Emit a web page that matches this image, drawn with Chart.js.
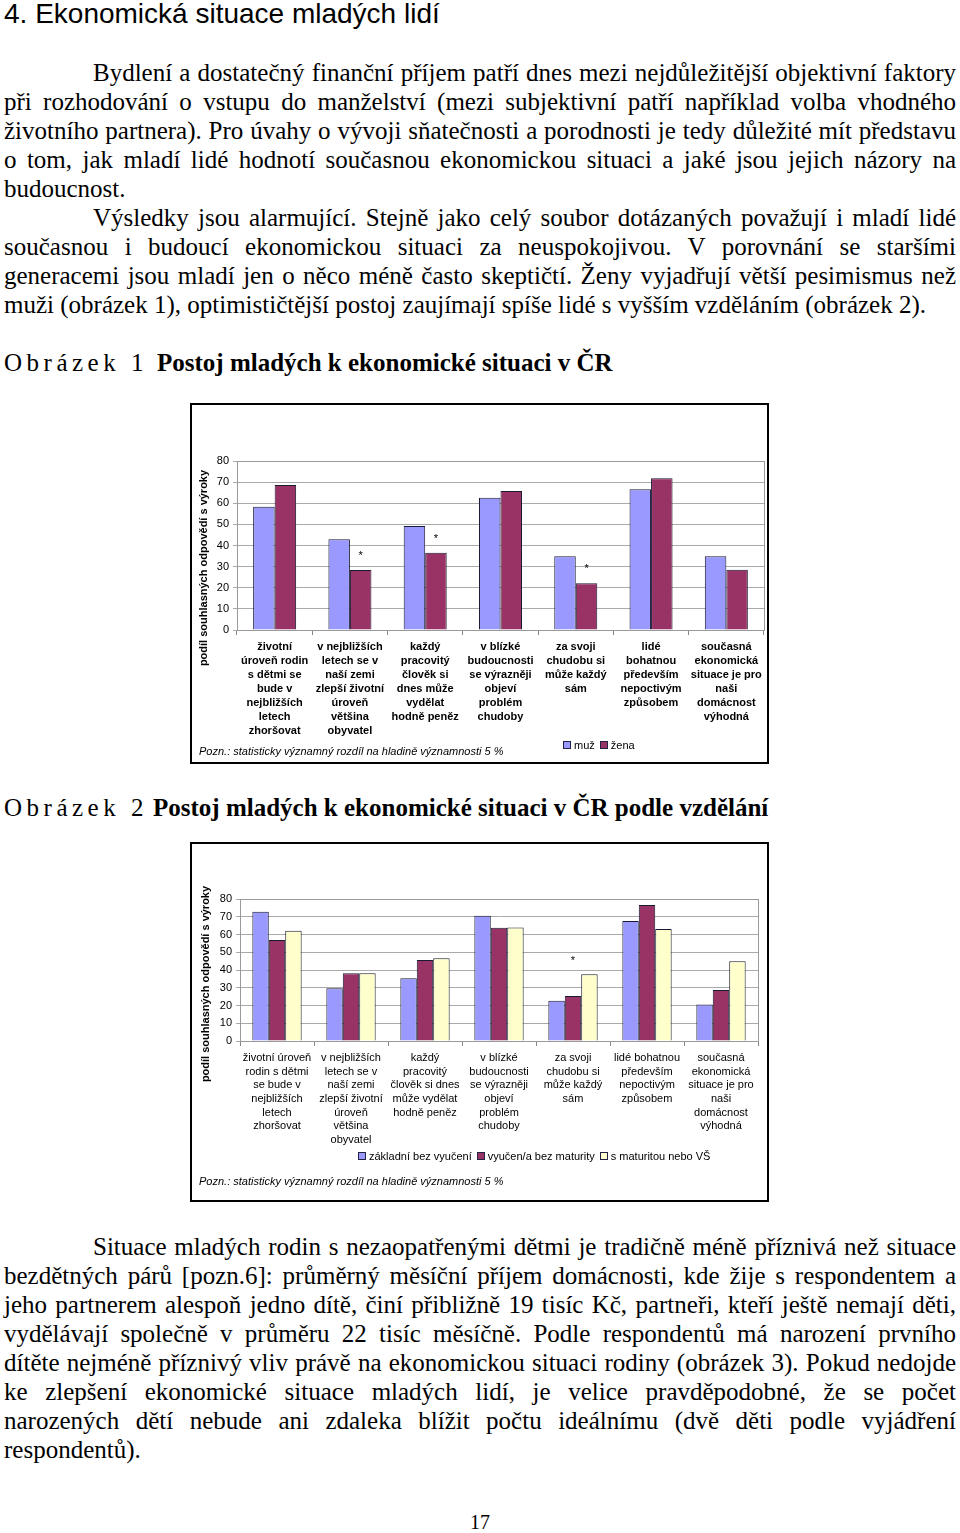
<!DOCTYPE html>
<html><head><meta charset="utf-8">
<script src="https://cdn.jsdelivr.net/npm/chart.js@4.4.1/dist/chart.umd.min.js"></script>
<style>
html,body{margin:0;padding:0;background:#fff;}
body{width:960px;height:1533px;position:relative;overflow:hidden;}
.t{position:absolute;font-family:'Liberation Serif','Times New Roman',serif;font-size:25px;line-height:29px;color:#000;white-space:nowrap;}
.j{left:4px;width:952px;text-align:justify;text-align-last:justify;white-space:normal;}
.ji{left:93px;width:863px;text-align:justify;text-align-last:justify;white-space:normal;}
.l{left:4px;}
.h1{position:absolute;left:4px;top:-2px;font-family:'Liberation Sans',Arial,sans-serif;font-size:28px;line-height:32px;white-space:nowrap;}
.sp{letter-spacing:4.5px;}
.b{font-weight:bold;}
.box{position:absolute;left:190px;width:579px;border:2px solid #000;box-sizing:border-box;background:#fff;}
.box canvas{position:absolute;left:0;top:0;}
.ytitle{position:absolute;width:240px;height:14px;line-height:14px;text-align:center;font:bold 11px 'Liberation Sans',Arial,sans-serif;transform:rotate(-90deg);white-space:nowrap;}
.note{position:absolute;left:199px;font:italic 11px 'Liberation Sans',Arial,sans-serif;line-height:14px;white-space:nowrap;}
.legend{position:absolute;font:11px 'Liberation Sans',Arial,sans-serif;line-height:14px;white-space:nowrap;display:flex;align-items:center;}
.legend .sw{display:inline-block;width:6px;height:6px;border:1px solid #222244;margin-right:3px;}
.legend .it{margin-right:5px;}
</style>
</head><body>

<div class="h1">4. Ekonomická situace mladých lidí</div>

<div class="t ji" style="top:58px">Bydlení a dostatečný finanční příjem patří dnes mezi nejdůležitější objektivní faktory</div>
<div class="t j" style="top:87px">při rozhodování o vstupu do manželství (mezi subjektivní patří například volba vhodného</div>
<div class="t j" style="top:116px">životního partnera). Pro úvahy o vývoji sňatečnosti a porodnosti je tedy důležité mít představu</div>
<div class="t j" style="top:145px">o tom, jak mladí lidé hodnotí současnou ekonomickou situaci a jaké jsou jejich názory na</div>
<div class="t l" style="top:174px">budoucnost.</div>
<div class="t ji" style="top:203px">Výsledky jsou alarmující. Stejně jako celý soubor dotázaných považují i mladí lidé</div>
<div class="t j" style="top:232px">současnou i budoucí ekonomickou situaci za neuspokojivou. V porovnání se staršími</div>
<div class="t j" style="top:261px">generacemi jsou mladí jen o něco méně často skeptičtí. Ženy vyjadřují větší pesimismus než</div>
<div class="t l" style="top:290px">muži (obrázek 1), optimističtější postoj zaujímají spíše lidé s vyšším vzděláním (obrázek 2).</div>

<div class="t l sp" style="top:348px">Obrázek 1</div>
<div class="t b" style="top:348px;left:157px">Postoj mladých k ekonomické situaci v ČR</div>

<div class="box" style="top:403px;height:361px"><canvas id="c1" width="575" height="357"></canvas></div>
<div class="ytitle" style="left:84px;top:561px">podíl souhlasných odpovědí s výroky</div>
<div class="note" style="top:744px">Pozn.: statisticky významný rozdíl na hladině významnosti 5 %</div>
<div class="legend" id="lg1" style="left:563px;top:738px"></div>

<div class="t l sp" style="top:793px">Obrázek 2</div>
<div class="t b" style="top:793px;left:153px">Postoj mladých k ekonomické situaci v ČR podle vzdělání</div>

<div class="box" style="top:842px;height:360px"><canvas id="c2" width="575" height="356"></canvas></div>
<div class="ytitle" style="left:86px;top:977px">podíl souhlasných odpovědí s výroky</div>
<div class="note" style="top:1174px">Pozn.: statisticky významný rozdíl na hladině významnosti 5 %</div>
<div class="legend" id="lg2" style="left:358px;top:1149px"></div>

<div class="t ji" style="top:1232px">Situace mladých rodin s nezaopatřenými dětmi je tradičně méně příznivá než situace</div>
<div class="t j" style="top:1261px">bezdětných párů [pozn.6]: průměrný měsíční příjem domácnosti, kde žije s respondentem a</div>
<div class="t j" style="top:1290px">jeho partnerem alespoň jedno dítě, činí přibližně 19 tisíc Kč, partneři, kteří ještě nemají děti,</div>
<div class="t j" style="top:1319px">vydělávají společně v průměru 22 tisíc měsíčně. Podle respondentů má narození prvního</div>
<div class="t j" style="top:1348px">dítěte nejméně příznivý vliv právě na ekonomickou situaci rodiny (obrázek 3). Pokud nedojde</div>
<div class="t j" style="top:1377px">ke zlepšení ekonomické situace mladých lidí, je velice pravděpodobné, že se počet</div>
<div class="t j" style="top:1406px">narozených dětí nebude ani zdaleka blížit počtu ideálnímu (dvě děti podle vyjádření</div>
<div class="t l" style="top:1435px">respondentů).</div>

<div class="t" style="top:1508px;left:0;width:960px;text-align:center;font-size:20px">17</div>

<script>
// ---------- data ----------
const yTicks = [0, 10, 20, 30, 40, 50, 60, 70, 80];

const categories1 = [
  ["životní","úroveň rodin","s dětmi se","bude v","nejbližších","letech","zhoršovat"],
  ["v nejbližších","letech se v","naší zemi","zlepší životní","úroveň","většina","obyvatel"],
  ["každý","pracovitý","člověk si","dnes může","vydělat","hodně peněz"],
  ["v blízké","budoucnosti","se výrazněji","objeví","problém","chudoby"],
  ["za svoji","chudobu si","může každý","sám"],
  ["lidé","bohatnou","především","nepoctivým","způsobem"],
  ["současná","ekonomická","situace je pro","naši","domácnost","výhodná"]
];
const seriesNames1 = ["muž", "žena"];
const muz  = [58.4, 42.9, 49.2, 62.6, 34.9, 66.6, 34.9];
const zena = [68.6, 28.4, 36.6, 65.8, 22.1, 71.8, 28.5];
const significant1 = [false, true, true, false, true, false, false];

const categories2 = [
  ["životní úroveň","rodin s dětmi","se bude v","nejbližších","letech","zhoršovat"],
  ["v nejbližších","letech se v","naší zemi","zlepší životní","úroveň","většina","obyvatel"],
  ["každý","pracovitý","člověk si dnes","může vydělat","hodně peněz"],
  ["v blízké","budoucnosti","se výrazněji","objeví","problém","chudoby"],
  ["za svoji","chudobu si","může každý","sám"],
  ["lidé bohatnou","především","nepoctivým","způsobem"],
  ["současná","ekonomická","situace je pro","naši","domácnost","výhodná"]
];
const seriesNames2 = ["základní bez vyučení", "vyučen/a bez maturity", "s maturitou nebo VŠ"];
const zakladni  = [72.8, 29.7, 35.3, 70.6, 22.7, 67.6, 20.5];
const vyucen    = [56.9, 38.1, 45.6, 63.8, 25.4, 76.6, 28.7];
const maturita  = [62.1, 38.1, 46.6, 64.0, 37.6, 63.1, 44.9];
const significant2 = [false, false, false, false, true, false, false];

// ---------- styles ----------
const COLORS = ['#9999FF', '#993366', '#FFFFCC'];
const BORDER = '#1a1a33';
const FONT = "'Liberation Sans', Arial, sans-serif";

const plotBorder = {
  id: 'plotBorder',
  beforeDatasetsDraw(chart) {
    const a = chart.chartArea, ctx = chart.ctx;
    ctx.save();
    ctx.strokeStyle = '#9a9a9a';
    ctx.lineWidth = 1;
    ctx.strokeRect(Math.round(a.left) + 0.5, Math.round(a.top) + 0.5, Math.round(a.right - a.left), Math.round(a.bottom - a.top));
    ctx.restore();
  }
};

const sigMarks = {
  id: 'sigMarks',
  afterDatasetsDraw(chart, args, opts) {
    if (!opts || !opts.flags) return;
    const ctx = chart.ctx;
    const xMeta = chart.getDatasetMeta(opts.xref);
    const yMeta = chart.getDatasetMeta(opts.yref);
    ctx.save();
    ctx.font = '11px ' + FONT;
    ctx.fillStyle = '#000';
    ctx.textAlign = 'center';
    ctx.textBaseline = 'alphabetic';
    opts.flags.forEach((f, i) => {
      if (!f) return;
      ctx.fillText('*', xMeta.data[i].x, yMeta.data[i].y - opts.offset);
    });
    ctx.restore();
  }
};

function makeChart(id, labels, names, series, catPct, yW, xH, padTop, padRight, boldLabels, lineH, sig) {
  const datasets = series.map((s, i) => ({
    label: names[i],
    data: s,
    backgroundColor: COLORS[i],
    borderColor: BORDER,
    borderWidth: 1,
    categoryPercentage: catPct,
    barPercentage: 1.0
  }));
  return new Chart(document.getElementById(id), {
    type: 'bar',
    data: { labels: labels, datasets: datasets },
    plugins: [plotBorder, sigMarks],
    options: {
      responsive: false,
      animation: false,
      layout: { padding: { top: padTop, right: padRight, left: 0, bottom: 0 } },
      plugins: {
        legend: { display: false },
        tooltip: { enabled: false },
        sigMarks: sig
      },
      scales: {
        x: {
          grid: { display: true, drawOnChartArea: false, drawTicks: true, tickLength: 5, color: '#888', offset: true },
          border: { color: '#888' },
          ticks: {
            autoSkip: false, maxRotation: 0, minRotation: 0, padding: 5, color: '#000',
            font: { family: FONT, size: 11, weight: boldLabels ? 'bold' : 'normal', lineHeight: lineH }
          },
          afterFit: s => { s.height = xH; }
        },
        y: {
          min: 0, max: 80,
          afterBuildTicks: s => { s.ticks = yTicks.map(v => ({ value: v })); },
          grid: { color: '#aaaaaa', tickLength: 4, drawTicks: true },
          border: { color: '#888' },
          ticks: { padding: 4, color: '#000', font: { family: FONT, size: 11 } },
          afterFit: s => { s.width = yW; }
        }
      }
    }
  });
}

makeChart('c1', categories1, seriesNames1, [muz, zena], 2 / 3.5, 45, 132, 56, 3, true, 14 / 11,
  { flags: significant1, xref: 1, yref: 1, offset: 11 });
makeChart('c2', categories2, seriesNames2, [zakladni, vyucen, maturita], 3 / 4.5, 48, 159, 55, 9, false, 13.7 / 11,
  { flags: significant2, xref: 1, yref: 2, offset: 10 });

function buildLegend(elId, names) {
  const el = document.getElementById(elId);
  names.forEach((n, i) => {
    const sw = document.createElement('span');
    sw.className = 'sw';
    sw.style.background = COLORS[i];
    const tx = document.createElement('span');
    tx.className = 'it';
    tx.textContent = n;
    el.appendChild(sw);
    el.appendChild(tx);
  });
}
buildLegend('lg1', seriesNames1);
buildLegend('lg2', seriesNames2);
</script>
</body></html>
